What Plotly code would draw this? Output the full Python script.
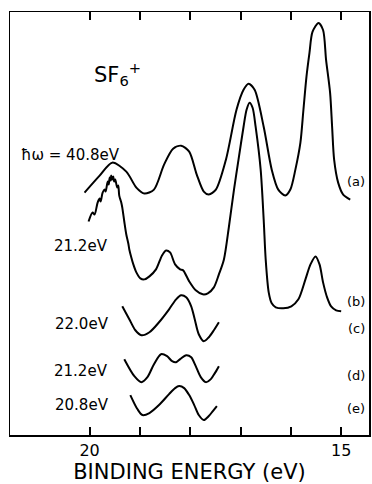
import plotly.graph_objects as go

# Binding energies (eV) and relative intensities
a_energy = [20.10, 19.80, 19.55, 19.27, 19.07, 18.91, 18.72, 18.52, 18.34, 18.18, 18.02, 17.87,
            17.73, 17.63, 17.49, 17.29, 17.08, 16.94, 16.84, 16.72, 16.54, 16.38, 16.25, 16.11,
            16.01, 15.91, 15.81, 15.75, 15.69, 15.63, 15.57, 15.45, 15.36, 15.30, 15.22, 15.18,
            15.14, 15.06, 14.96, 14.82]
a_intensity = [243, 260, 273, 264, 248, 242, 246, 271, 287, 290, 284, 261,
               244, 241, 246, 276, 326, 346, 352, 346, 309, 266, 246, 240,
               246, 266, 293, 326, 359, 383, 404, 413, 406, 376, 343, 309,
               276, 253, 241, 236]

b_energy = [20.02, 19.94, 19.90, 19.84, 19.80, 19.78, 19.74, 19.70, 19.68, 19.64, 19.62, 19.60,
            19.58, 19.57, 19.55, 19.53, 19.51, 19.49, 19.45, 19.43, 19.41, 19.37, 19.35, 19.31,
            19.27, 19.23, 19.21, 19.17, 19.13, 19.07, 18.99, 18.91, 18.81, 18.68, 18.56, 18.48,
            18.40, 18.30, 18.20, 18.14, 18.02, 17.89, 17.75, 17.65, 17.53, 17.43, 17.33, 17.23,
            17.13, 17.04, 16.94, 16.88, 16.82, 16.76, 16.70, 16.60, 16.54, 16.50, 16.44, 16.38,
            16.30, 16.15, 15.99, 15.85, 15.71, 15.61, 15.51, 15.43, 15.36, 15.28, 15.20, 15.10,
            15.00]
b_intensity = [214, 223, 221, 233, 237, 234, 243, 246, 244, 254, 251, 258,
               255, 260, 256, 259, 254, 256, 248, 250, 240, 233, 228, 214,
               201, 192, 186, 178, 171, 163, 157, 156, 159, 166, 180, 185,
               183, 171, 166, 165, 154, 145, 141, 142, 148, 161, 176, 209,
               246, 276, 309, 326, 333, 328, 309, 266, 216, 176, 143, 132,
               128, 127, 129, 136, 156, 171, 179, 171, 153, 138, 129, 125,
               124]

c_energy = [19.35, 19.21, 19.09, 18.97, 18.81, 18.62, 18.42, 18.28, 18.18, 18.08, 17.98, 17.91,
            17.83, 17.73, 17.63, 17.53, 17.43]
c_intensity = [129, 116, 105, 100, 103, 113, 126, 136, 140, 138, 129, 116,
               101, 94, 98, 105, 113]

d_energy = [19.31, 19.11, 18.97, 18.85, 18.72, 18.58, 18.46, 18.36, 18.28, 18.20, 18.08, 17.98,
            17.89, 17.79, 17.69, 17.59, 17.51, 17.43]
d_intensity = [76, 59, 53, 58, 71, 81, 79, 74, 73, 76, 80, 78,
               69, 58, 53, 56, 62, 69]

e_energy = [19.19, 19.05, 18.95, 18.81, 18.62, 18.42, 18.30, 18.22, 18.12, 18.02, 17.92, 17.83,
            17.73, 17.63, 17.55, 17.47]
e_intensity = [40, 26, 20, 22, 30, 41, 47, 49, 47, 40, 30, 20,
               15, 19, 24, 29]

tick_values = [20, 19, 18, 17, 16, 15]
tick_labels = ["20", "", "", "", "", "15"]

series = [
    ("(a) 40.8 eV", a_energy, a_intensity),
    ("(b) 21.2 eV", b_energy, b_intensity),
    ("(c) 22.0 eV", c_energy, c_intensity),
    ("(d) 21.2 eV", d_energy, d_intensity),
    ("(e) 20.8 eV", e_energy, e_intensity),
]

fig = go.Figure()
for name, xs, ys in series:
    fig.add_trace(go.Scatter(
        x=xs, y=ys, mode="lines", name=name,
        line=dict(color="black", width=2, shape="spline", smoothing=0.8),
        showlegend=False, hoverinfo="skip",
    ))

FONT = "DejaVu Sans"
lab = dict(showarrow=False, xref="x", yref="y", font=dict(family=FONT, size=15, color="black"))
annotations = [
    dict(text="SF<sub>6</sub><sup>+</sup>", x=19.96, y=362, xanchor="left", yanchor="middle",
         **{**lab, "font": dict(family=FONT, size=21, color="black")}),
    dict(text="ħω = 40.8eV", x=19.36, y=281, xanchor="right", yanchor="middle", **lab),
    dict(text="21.2eV", x=19.60, y=189, xanchor="right", yanchor="middle", **lab),
    dict(text="22.0eV", x=19.58, y=111, xanchor="right", yanchor="middle", **lab),
    dict(text="21.2eV", x=19.60, y=64, xanchor="right", yanchor="middle", **lab),
    dict(text="20.8eV", x=19.58, y=30, xanchor="right", yanchor="middle", **lab),
]
for txt, yy in [("(a)", 254), ("(b)", 134), ("(c)", 107), ("(d)", 60), ("(e)", 27)]:
    annotations.append(dict(text=txt, x=14.70, y=yy, xanchor="center", yanchor="middle",
                            **{**lab, "font": dict(family=FONT, size=13, color="black")}))

fig.update_layout(
    width=372, height=484,
    margin=dict(l=10, r=1, t=12, b=48),
    paper_bgcolor="white", plot_bgcolor="white",
    annotations=annotations,
    xaxis=dict(
        range=[21.581, 14.447], showgrid=False, zeroline=False,
        showline=True, linecolor="black", linewidth=1.5, mirror="ticks",
        ticks="inside", ticklen=8, tickwidth=2, tickcolor="black",
        tickvals=tick_values, ticktext=tick_labels,
        tickfont=dict(family=FONT, size=16, color="black"),
        title=dict(text="BINDING ENERGY (eV)", font=dict(family=FONT, size=21, color="black"),
                   standoff=9),
    ),
    yaxis=dict(
        range=[0, 424], showgrid=False, zeroline=False,
        showline=True, linecolor="black", linewidth=1.5, mirror=True,
        ticks="", showticklabels=False,
    ),
)

fig.write_html(
    "out.html",
    config={"displayModeBar": False, "staticPlot": True},
    post_script="document.body.style.margin='0';document.body.style.overflow='hidden';",
)
